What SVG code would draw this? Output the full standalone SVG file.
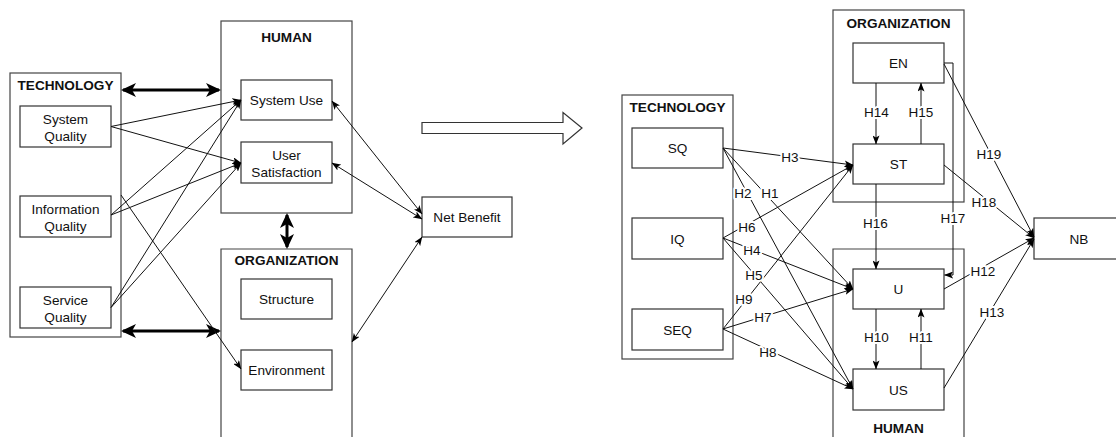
<svg xmlns="http://www.w3.org/2000/svg" width="1116" height="437" viewBox="0 0 1116 437">
  <style>
    .box { fill: #fff; stroke: #333; stroke-width: 1.2; }
    .frame { fill: none; stroke: #444; stroke-width: 1.2; }
    .txt { font-family: "Liberation Sans", Arial, sans-serif; font-size: 13.6px; fill: #111; text-anchor: middle; }
    .hdr { font-family: "Liberation Sans", Arial, sans-serif; font-size: 13.6px; font-weight: bold; fill: #111; text-anchor: middle; }
    .lbl { font-family: "Liberation Sans", Arial, sans-serif; font-size: 13.5px; fill: #111; text-anchor: middle;
           paint-order: stroke; stroke: #fff; stroke-width: 4px; stroke-linejoin: round; }
    .ln { fill: none; stroke: #111; stroke-width: 1; }
    .thick { fill: none; stroke: #000; stroke-width: 3; }
  </style>
  <defs>
    <marker id="arr" viewBox="0 0 9 7" refX="8.6" refY="3.5" markerWidth="9" markerHeight="7" markerUnits="userSpaceOnUse" orient="auto-start-reverse">
      <path d="M0,0 L9,3.5 L0,7 L2.2,3.5 z" fill="#000"/>
    </marker>
    <marker id="big" viewBox="0 0 15 14" refX="13" refY="7" markerWidth="15" markerHeight="14" markerUnits="userSpaceOnUse" orient="auto-start-reverse">
      <path d="M0,0 L15,7 L0,14 L4,7 z" fill="#000"/>
    </marker>
  </defs>

  <!-- ===== Left model: HOT-fit framework ===== -->
  <g id="l-technology">
    <rect class="frame" x="10" y="73" width="111" height="264"/>
    <text class="hdr" x="65.5" y="90">TECHNOLOGY</text>
  </g>
  <g id="l-system-quality">
    <rect class="box" x="20" y="106" width="91" height="41"/>
    <text class="txt" x="65.5" y="123.5">System</text>
    <text class="txt" x="65.5" y="140.5">Quality</text>
  </g>
  <g id="l-information-quality">
    <rect class="box" x="20" y="196" width="91" height="41"/>
    <text class="txt" x="65.5" y="213.5">Information</text>
    <text class="txt" x="65.5" y="230.5">Quality</text>
  </g>
  <g id="l-service-quality">
    <rect class="box" x="20" y="287" width="91" height="41"/>
    <text class="txt" x="65.5" y="304.5">Service</text>
    <text class="txt" x="65.5" y="321.5">Quality</text>
  </g>

  <g id="l-human">
    <rect class="frame" x="221" y="21" width="131" height="192"/>
    <text class="hdr" x="286.5" y="42">HUMAN</text>
  </g>
  <g id="l-system-use">
    <rect class="box" x="241" y="80" width="91" height="40"/>
    <text class="txt" x="286.5" y="105">System Use</text>
  </g>
  <g id="l-user-satisfaction">
    <rect class="box" x="241" y="142" width="91" height="41"/>
    <text class="txt" x="286.5" y="159.5">User</text>
    <text class="txt" x="286.5" y="176.5">Satisfaction</text>
  </g>

  <g id="l-organization">
    <path class="frame" d="M221,445 V249 H352 V445"/>
    <text class="hdr" x="286.5" y="265">ORGANIZATION</text>
  </g>
  <g id="l-structure">
    <rect class="box" x="241" y="279" width="91" height="40"/>
    <text class="txt" x="286.5" y="304">Structure</text>
  </g>
  <g id="l-environment">
    <rect class="box" x="241" y="350" width="91" height="40"/>
    <text class="txt" x="286.5" y="375">Environment</text>
  </g>

  <g id="l-net-benefit">
    <rect class="box" x="422" y="197" width="90" height="40"/>
    <text class="txt" x="467" y="222">Net Benefit</text>
  </g>

  <g id="l-connectors">
    <!-- bold two-way links between the HOT dimensions -->
    <line class="thick" x1="123" y1="90" x2="219" y2="90" marker-start="url(#big)" marker-end="url(#big)"/>
    <line class="thick" x1="123" y1="331" x2="219" y2="331" marker-start="url(#big)" marker-end="url(#big)"/>
    <line class="thick" x1="287" y1="215" x2="287" y2="247" marker-start="url(#big)" marker-end="url(#big)"/>
    <!-- technology factors into human factors -->
    <line class="ln" x1="111" y1="126.5" x2="241" y2="100" marker-end="url(#arr)"/>
    <line class="ln" x1="111" y1="126.5" x2="241" y2="163" marker-end="url(#arr)"/>
    <line class="ln" x1="111" y1="215" x2="241" y2="100" marker-end="url(#arr)"/>
    <line class="ln" x1="111" y1="215" x2="241" y2="163" marker-end="url(#arr)"/>
    <line class="ln" x1="111" y1="307.5" x2="241" y2="100" marker-end="url(#arr)"/>
    <line class="ln" x1="111" y1="307.5" x2="241" y2="163" marker-end="url(#arr)"/>
    <line class="ln" x1="121" y1="195" x2="241" y2="369" marker-end="url(#arr)"/>
    <!-- net benefit feedback -->
    <line class="ln" x1="332" y1="101" x2="422" y2="214" marker-start="url(#arr)" marker-end="url(#arr)"/>
    <line class="ln" x1="332" y1="163" x2="422" y2="219" marker-start="url(#arr)" marker-end="url(#arr)"/>
    <line class="ln" x1="352" y1="342" x2="422" y2="237" marker-start="url(#arr)" marker-end="url(#arr)"/>
  </g>

  <!-- hollow transition arrow -->
  <g id="transition-arrow">
    <polygon points="422,122.5 563,122.5 563,112.5 582,128 563,144 563,133.5 422,133.5" fill="#fff" stroke="#333" stroke-width="1.2"/>
  </g>

  <!-- ===== Right model: hypotheses ===== -->
  <g id="r-technology">
    <rect class="frame" x="622" y="95" width="111" height="264"/>
    <text class="hdr" x="677.5" y="112">TECHNOLOGY</text>
  </g>
  <g id="r-sq">
    <rect class="box" x="632" y="128" width="91" height="40"/>
    <text class="txt" x="677.5" y="153">SQ</text>
  </g>
  <g id="r-iq">
    <rect class="box" x="632" y="218" width="91" height="41"/>
    <text class="txt" x="677.5" y="243.5">IQ</text>
  </g>
  <g id="r-seq">
    <rect class="box" x="632" y="309" width="91" height="41"/>
    <text class="txt" x="677.5" y="334.5">SEQ</text>
  </g>

  <g id="r-organization">
    <rect class="frame" x="833" y="10" width="131" height="192"/>
    <text class="hdr" x="898.5" y="27.5">ORGANIZATION</text>
  </g>
  <g id="r-en">
    <rect class="box" x="853" y="43" width="91" height="40"/>
    <text class="txt" x="898.5" y="68">EN</text>
  </g>
  <g id="r-st">
    <rect class="box" x="853" y="144" width="91" height="40"/>
    <text class="txt" x="898.5" y="169">ST</text>
  </g>

  <g id="r-human">
    <path class="frame" d="M833,445 V249 H964 V445"/>
    <text class="hdr" x="898.5" y="433">HUMAN</text>
  </g>
  <g id="r-u">
    <rect class="box" x="853" y="269" width="91" height="40"/>
    <text class="txt" x="898.5" y="294">U</text>
  </g>
  <g id="r-us">
    <rect class="box" x="853" y="369" width="91" height="41"/>
    <text class="txt" x="898.5" y="394.5">US</text>
  </g>

  <g id="r-nb">
    <rect class="box" x="1034" y="218" width="90" height="41"/>
    <text class="txt" x="1079" y="243.5">NB</text>
  </g>

  <g id="r-connectors">
    <!-- technology to organization / human -->
    <line class="ln" x1="723" y1="148" x2="853" y2="165" marker-end="url(#arr)"/>
    <line class="ln" x1="723" y1="148" x2="853" y2="289" marker-end="url(#arr)"/>
    <line class="ln" x1="723" y1="148" x2="853" y2="389" marker-end="url(#arr)"/>
    <line class="ln" x1="723" y1="238" x2="853" y2="165" marker-end="url(#arr)"/>
    <line class="ln" x1="723" y1="238" x2="853" y2="289" marker-end="url(#arr)"/>
    <line class="ln" x1="723" y1="238" x2="853" y2="389" marker-end="url(#arr)"/>
    <line class="ln" x1="723" y1="329" x2="853" y2="165" marker-end="url(#arr)"/>
    <line class="ln" x1="723" y1="329" x2="853" y2="289" marker-end="url(#arr)"/>
    <line class="ln" x1="723" y1="329" x2="853" y2="389" marker-end="url(#arr)"/>
    <!-- within organization and human -->
    <line class="ln" x1="876" y1="83" x2="876" y2="144" marker-end="url(#arr)"/>
    <line class="ln" x1="921" y1="144" x2="921" y2="83" marker-end="url(#arr)"/>
    <line class="ln" x1="876" y1="184" x2="876" y2="269" marker-end="url(#arr)"/>
    <path class="ln" d="M944,63 H953 V275 H944.5" marker-end="url(#arr)"/>
    <line class="ln" x1="876" y1="309" x2="876" y2="369" marker-end="url(#arr)"/>
    <line class="ln" x1="921" y1="369" x2="921" y2="309" marker-end="url(#arr)"/>
    <!-- into net benefit -->
    <line class="ln" x1="944" y1="64" x2="1034" y2="237" marker-end="url(#arr)"/>
    <line class="ln" x1="944" y1="165" x2="1034" y2="238" marker-end="url(#arr)"/>
    <line class="ln" x1="944" y1="289" x2="1034" y2="238" marker-end="url(#arr)"/>
    <line class="ln" x1="944" y1="388" x2="1034" y2="239" marker-end="url(#arr)"/>

    <!-- hypothesis labels -->
    <text class="lbl" x="790" y="162">H3</text>
    <text class="lbl" x="743" y="198">H2</text>
    <text class="lbl" x="770" y="198">H1</text>
    <text class="lbl" x="747" y="232">H6</text>
    <text class="lbl" x="752" y="255">H4</text>
    <text class="lbl" x="754" y="280">H5</text>
    <text class="lbl" x="744" y="304">H9</text>
    <text class="lbl" x="763" y="322">H7</text>
    <text class="lbl" x="768" y="357">H8</text>
    <text class="lbl" x="876.5" y="117">H14</text>
    <text class="lbl" x="921" y="117">H15</text>
    <text class="lbl" x="875.5" y="227.5">H16</text>
    <text class="lbl" x="953" y="223">H17</text>
    <text class="lbl" x="876.5" y="342">H10</text>
    <text class="lbl" x="921" y="342">H11</text>
    <text class="lbl" x="989" y="159">H19</text>
    <text class="lbl" x="984" y="206.5">H18</text>
    <text class="lbl" x="983" y="275.5">H12</text>
    <text class="lbl" x="992" y="316.5">H13</text>
  </g>
</svg>
